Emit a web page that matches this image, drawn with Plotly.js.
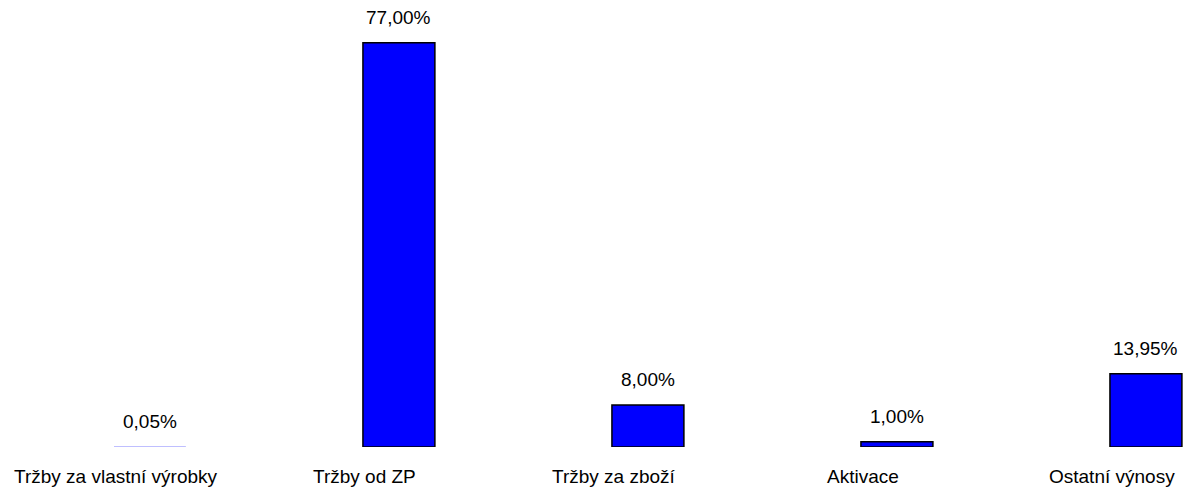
<!DOCTYPE html>
<html>
<head>
<meta charset="utf-8">
<script src="https://cdn.plot.ly/plotly-3.0.1.min.js"></script>
<style>html,body{margin:0;padding:0;background:#fff;}#chart{width:1191px;height:495px;}</style>
</head>
<body>
<div id="chart"></div>
<script>
const categories = ["Tržby za vlastní výrobky", "Tržby od ZP", "Tržby za zboží", "Aktivace", "Ostatní výnosy"];
const values = [0.05, 77.00, 8.00, 1.00, 13.95];
const positions = categories.map((c, i) => i);

const FONT = 'Liberation Sans, Arial, sans-serif';

const trace = {
  type: 'bar',
  x: positions,
  y: values,
  width: 0.289,
  marker: {color: '#0000ff', line: {color: '#000000', width: values.map(v => v < 0.5 ? 0 : 1.5)}},
  hoverinfo: 'skip'
};

const valueLabels = values.map((v, i) => ({
  x: positions[i], y: v, xref: 'x', yref: 'y',
  text: v.toFixed(2).replace('.', ',') + '%',
  showarrow: false, yanchor: 'bottom', yshift: 13,
  font: {family: FONT, size: 19, color: '#000'}
}));

const categoryLabels = categories.map((c, i) => ({
  x: positions[i], y: 0, xref: 'x', yref: 'paper',
  text: c, showarrow: false, yanchor: 'top', yshift: -17, xshift: -34,
  font: {family: FONT, size: 19, color: '#000'}
}));

const layout = {
  width: 1191, height: 495,
  margin: {l: 0, r: 0, t: 0, b: 48, pad: 0},
  paper_bgcolor: '#fff', plot_bgcolor: '#fff',
  showlegend: false,
  xaxis: {
    range: [-0.602, 4.181],
    tickvals: positions, showticklabels: false,
    showgrid: false, zeroline: false, showline: false, ticks: ''
  },
  yaxis: {
    range: [0, 85.14], visible: false, showgrid: false, zeroline: false
  },
  annotations: valueLabels.concat(categoryLabels)
};

Plotly.newPlot('chart', [trace], layout, {displayModeBar: false, staticPlot: true});
</script>
</body>
</html>
